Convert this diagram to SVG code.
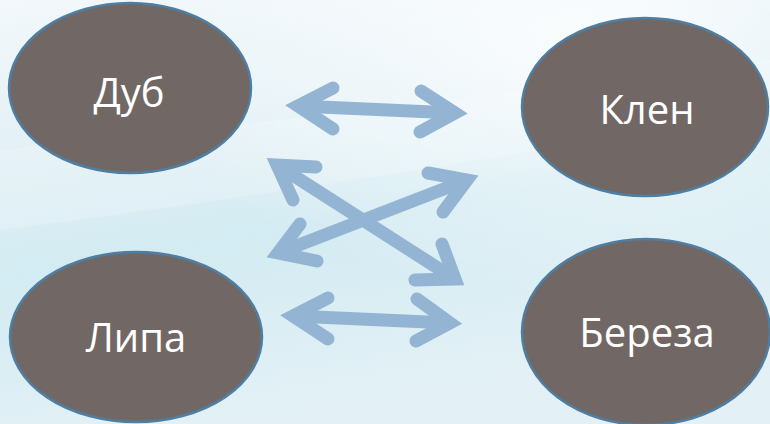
<svg xmlns="http://www.w3.org/2000/svg" width="770" height="424" viewBox="0 0 770 424">
  <defs>
    <linearGradient id="bg" x1="0" y1="0" x2="0.3" y2="1">
      <stop offset="0" stop-color="#f3f8fb"/>
      <stop offset="0.35" stop-color="#e2f0f6"/>
      <stop offset="0.6" stop-color="#d3ebf2"/>
      <stop offset="1" stop-color="#e3f1f6"/>
    </linearGradient>
    <radialGradient id="haze" cx="0.75" cy="0.1" r="0.6">
      <stop offset="0" stop-color="#ffffff" stop-opacity="0.8"/>
      <stop offset="1" stop-color="#ffffff" stop-opacity="0"/>
    </radialGradient>
    <style>
      .node ellipse { fill: #716866; stroke: #4f7ea3; stroke-width: 2.5; }
      .node text { fill: #ffffff; font-family: "Open Sans", "Liberation Sans", sans-serif; font-size: 40px; text-anchor: middle; }
      .shaft { stroke: #93b5d3; stroke-width: 13; fill: none; }
      .head { stroke: #93b5d3; stroke-width: 13; fill: none; stroke-linecap: round; stroke-linejoin: miter; stroke-miterlimit: 10; }
    </style>
  </defs>

  <!-- background -->
  <rect width="770" height="424" fill="url(#bg)"/>
  <rect width="770" height="424" fill="url(#haze)"/>
  <path d="M0 150 Q300 120 770 60 L770 110 Q320 190 0 230 Z" fill="#ffffff" opacity="0.18"/>

  <!-- connectors -->
  <g id="connectors">
    <!-- Дуб <-> Клен -->
    <line class="shaft" x1="298" y1="106" x2="455" y2="113"/>
    <polyline class="head" points="333,88 298,106 333,129"/>
    <polyline class="head" points="421,91 455,113 420,132"/>

    <!-- Липа <-> Береза -->
    <line class="shaft" x1="293" y1="316" x2="450" y2="323"/>
    <polyline class="head" points="328,298 293,316 328,339"/>
    <polyline class="head" points="417,299 450,323 416,341"/>

    <!-- Дуб <-> Береза -->
    <line class="shaft" x1="277" y1="165" x2="455" y2="279"/>
    <polyline class="head" points="316,167 277,165 293,200"/>
    <polyline class="head" points="442,244 455,279 415,280"/>

    <!-- Липа <-> Клен -->
    <line class="shaft" x1="278" y1="253" x2="467" y2="180"/>
    <polyline class="head" points="300,224 278,253 317,261"/>
    <polyline class="head" points="428,173 467,180 443,212"/>
  </g>

  <!-- nodes -->
  <g id="node-dub" class="node">
    <ellipse cx="130" cy="88" rx="121" ry="85"/>
    <text x="129" y="107">Дуб</text>
  </g>
  <g id="node-klen" class="node">
    <ellipse cx="645" cy="107" rx="123" ry="89"/>
    <text x="647" y="124">Клен</text>
  </g>
  <g id="node-lipa" class="node">
    <ellipse cx="136" cy="337" rx="126" ry="85"/>
    <text x="136" y="352">Липа</text>
  </g>
  <g id="node-bereza" class="node">
    <ellipse cx="646" cy="332" rx="124" ry="93"/>
    <text x="647" y="347">Береза</text>
  </g>
</svg>
